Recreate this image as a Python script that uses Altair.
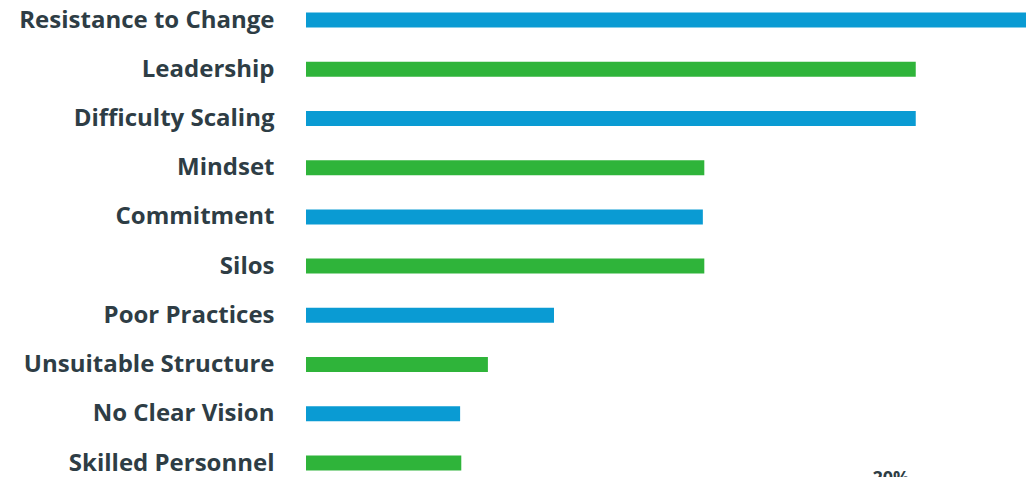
import altair as alt
import pandas as pd

categories = ["Resistance to Change", "Leadership", "Difficulty Scaling", "Mindset",
              "Commitment", "Silos", "Poor Practices", "Unsuitable Structure",
              "No Clear Vision", "Skilled Personnel"]
values = [28.0, 20.85, 20.85, 13.62, 13.57, 13.62, 8.48, 6.22, 5.27, 5.31]
groups = ["blue", "green", "blue", "green", "blue", "green", "blue", "green", "blue", "green"]
tick_label = ["20%"]
tick_value = [20]

df = pd.DataFrame({"cat": categories, "val": values, "grp": groups})
tdf = pd.DataFrame({"x": tick_value, "t": tick_label})

xscale = alt.Scale(domain=[0, 24.62], clamp=True, nice=False, zero=True)

bars = alt.Chart(df).mark_bar(height=15).encode(
    x=alt.X("val:Q", scale=xscale, axis=None),
    y=alt.Y("cat:N", sort=categories,
            scale=alt.Scale(type="point", range=[12, 455], padding=0),
            axis=alt.Axis(title=None, labelFont="Open Sans", labelFontWeight="bold",
                          labelFontSize=24, labelColor="#2e3d45", labelPadding=32,
                          ticks=False, domain=False, grid=False, labelLimit=400)),
    color=alt.Color("grp:N", scale=alt.Scale(domain=["blue", "green"],
                                             range=["#0a9bd3", "#2fb43a"]),
                    legend=None),
)

ticktext = alt.Chart(tdf).mark_text(font="Open Sans", fontSize=18, fontWeight="bold",
                                    color="#2e3d45", baseline="top").encode(
    x=alt.X("x:Q", scale=xscale),
    y=alt.value(462),
    text="t:N",
)

chart = alt.layer(bars, ticktext).properties(
    width=720, height=461,
    autosize=alt.AutoSizeParams(type="none"),
    padding={"left": 298, "top": 0, "right": 0, "bottom": 24},
).configure(background="white").configure_view(stroke=None)

chart.save("out.html", embed_options={"renderer": "svg", "actions": False})
